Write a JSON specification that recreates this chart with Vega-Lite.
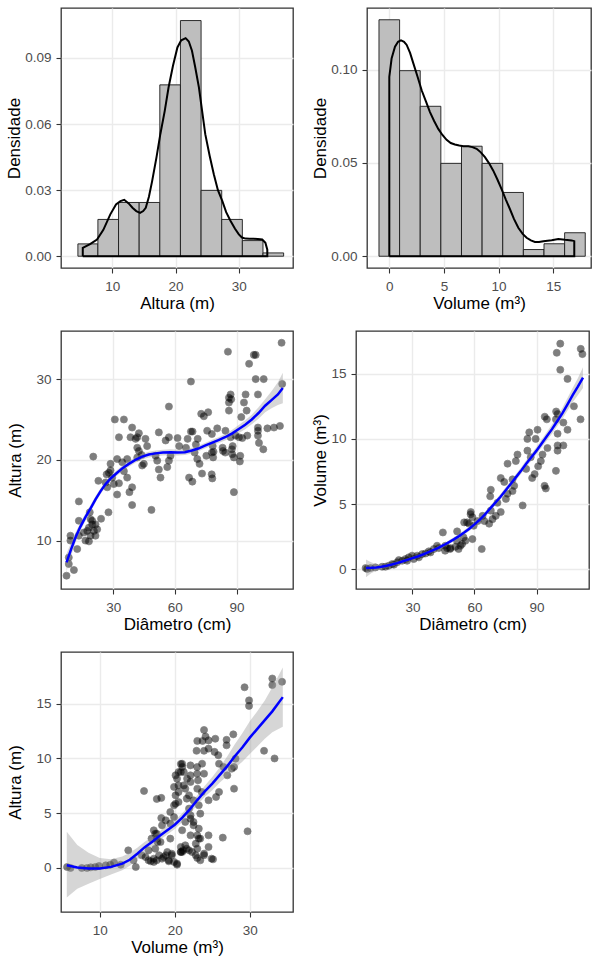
{
"$schema": "https://vega.github.io/schema/vega-lite/v6.json",
"background": "white",
"padding": {"left": 4, "top": 7, "right": 0, "bottom": 0},
"columns": 2,
"align": "none",
"spacing": {"row": 18, "column": 16},
"config": {
  "view": {"stroke": "#333333", "strokeWidth": 1.3},
  "axis": {"domain": false, "grid": true, "gridColor": "#EBEBEB", "gridWidth": 1.4, "tickColor": "#333333", "tickSize": 5, "tickWidth": 1.1,
    "labelFont": "Liberation Sans", "labelFontSize": 13.5, "labelColor": "#4D4D4D", "labelPadding": 6, "labelOverlap": false, "labelFlush": false,
    "titleFont": "Liberation Sans", "titleFontSize": 17, "titleFontWeight": "normal", "titleColor": "#000000"},
  "axisY": {"labelPadding": 5}
},
"datasets": {
  "h1bars": [{"a":4.58,"b":7.74,"d":0.0056},{"a":7.74,"b":11.0,"d":0.0167},{"a":11.0,"b":14.26,"d":0.0244},{"a":14.26,"b":17.52,"d":0.0244},{"a":17.52,"b":20.78,"d":0.0778},{"a":20.78,"b":24.04,"d":0.107},{"a":24.04,"b":27.3,"d":0.0299},{"a":27.3,"b":30.56,"d":0.0167},{"a":30.56,"b":33.82,"d":0.0071},{"a":33.82,"b":37.08,"d":0.0015}],
  "h1dens": [{"k":0,"x":5.35,"y":0},{"k":1,"x":5.35,"y":0.0038},{"k":2,"x":6.5,"y":0.0055},{"k":3,"x":7.6,"y":0.0076},{"k":4,"x":8.6,"y":0.012},{"k":5,"x":9.7,"y":0.019},{"k":6,"x":10.6,"y":0.0235},{"k":7,"x":11.3,"y":0.025},{"k":8,"x":11.9,"y":0.0256},{"k":9,"x":12.6,"y":0.024},{"k":10,"x":13.2,"y":0.022},{"k":11,"x":13.8,"y":0.0205},{"k":12,"x":14.4,"y":0.0197},{"k":13,"x":14.9,"y":0.0205},{"k":14,"x":15.3,"y":0.022},{"k":15,"x":15.8,"y":0.027},{"k":16,"x":16.3,"y":0.034},{"k":17,"x":17.0,"y":0.045},{"k":18,"x":17.6,"y":0.0554},{"k":19,"x":18.3,"y":0.066},{"k":20,"x":18.9,"y":0.0766},{"k":21,"x":19.6,"y":0.0865},{"k":22,"x":20.3,"y":0.0948},{"k":23,"x":20.9,"y":0.098},{"k":24,"x":21.6,"y":0.099},{"k":25,"x":22.1,"y":0.0975},{"k":26,"x":22.6,"y":0.0933},{"k":27,"x":23.1,"y":0.086},{"k":28,"x":23.7,"y":0.0766},{"k":29,"x":24.2,"y":0.066},{"k":30,"x":24.7,"y":0.0554},{"k":31,"x":25.4,"y":0.0455},{"k":32,"x":26.05,"y":0.0372},{"k":33,"x":26.7,"y":0.03},{"k":34,"x":27.4,"y":0.025},{"k":35,"x":28.0,"y":0.02},{"k":36,"x":28.7,"y":0.016},{"k":37,"x":29.4,"y":0.0125},{"k":38,"x":30.0,"y":0.0099},{"k":39,"x":30.5,"y":0.0085},{"k":40,"x":31.05,"y":0.008},{"k":41,"x":31.7,"y":0.0079},{"k":42,"x":32.4,"y":0.0079},{"k":43,"x":33.0,"y":0.0078},{"k":44,"x":33.7,"y":0.0076},{"k":45,"x":34.2,"y":0.0061},{"k":46,"x":34.5,"y":0.003},{"k":47,"x":34.5,"y":0},{"k":48,"x":5.35,"y":0}],
  "h2bars": [{"a":-0.945,"b":0.942,"d":0.1268},{"a":0.942,"b":2.829,"d":0.0995},{"a":2.829,"b":4.716,"d":0.0804},{"a":4.716,"b":6.603,"d":0.0498},{"a":6.603,"b":8.49,"d":0.059},{"a":8.49,"b":10.377,"d":0.0498},{"a":10.377,"b":12.264,"d":0.0342},{"a":12.264,"b":14.151,"d":0.0036},{"a":14.151,"b":16.038,"d":0.0067},{"a":16.038,"b":17.925,"d":0.0126}],
  "h2dens": [{"k":0,"x":0,"y":0},{"k":1,"x":0,"y":0.0962},{"k":2,"x":0.21,"y":0.106},{"k":3,"x":0.52,"y":0.1124},{"k":4,"x":0.8,"y":0.115},{"k":5,"x":1.07,"y":0.1157},{"k":6,"x":1.35,"y":0.115},{"k":7,"x":1.59,"y":0.1133},{"k":8,"x":1.9,"y":0.109},{"k":9,"x":2.2,"y":0.1034},{"k":10,"x":2.6,"y":0.096},{"k":11,"x":2.96,"y":0.089},{"k":12,"x":3.35,"y":0.083},{"k":13,"x":3.72,"y":0.0773},{"k":14,"x":4.1,"y":0.0725},{"k":15,"x":4.48,"y":0.0683},{"k":16,"x":4.86,"y":0.065},{"k":17,"x":5.24,"y":0.0624},{"k":18,"x":5.62,"y":0.0607},{"k":19,"x":6.0,"y":0.0599},{"k":20,"x":6.4,"y":0.0594},{"k":21,"x":6.77,"y":0.059},{"k":22,"x":7.23,"y":0.059},{"k":23,"x":7.6,"y":0.0585},{"k":24,"x":7.99,"y":0.0576},{"k":25,"x":8.37,"y":0.0557},{"k":26,"x":8.75,"y":0.0531},{"k":27,"x":9.13,"y":0.0498},{"k":28,"x":9.51,"y":0.0459},{"k":29,"x":9.9,"y":0.041},{"k":30,"x":10.27,"y":0.036},{"k":31,"x":10.65,"y":0.0305},{"k":32,"x":11.04,"y":0.0252},{"k":33,"x":11.4,"y":0.02},{"k":34,"x":11.8,"y":0.0153},{"k":35,"x":12.2,"y":0.012},{"k":36,"x":12.56,"y":0.0099},{"k":37,"x":12.95,"y":0.0085},{"k":38,"x":13.32,"y":0.0077},{"k":39,"x":13.7,"y":0.0077},{"k":40,"x":14.09,"y":0.0081},{"k":41,"x":14.85,"y":0.0086},{"k":42,"x":15.46,"y":0.0092},{"k":43,"x":16.07,"y":0.0088},{"k":44,"x":16.68,"y":0.0085},{"k":45,"x":16.92,"y":0.0081},{"k":46,"x":16.92,"y":0},{"k":47,"x":0,"y":0}],
  "s3pts": [{"x":7.3,"y":5.65},{"x":10.9,"y":6.35},{"x":8.4,"y":7.1},{"x":8.4,"y":7.9},{"x":12.5,"y":8.95},{"x":9.2,"y":10.0},{"x":9.2,"y":10.6},{"x":13.3,"y":10.6},{"x":13.3,"y":12.45},{"x":13.3,"y":14.85},{"x":16.5,"y":10.0},{"x":18.2,"y":9.9},{"x":19.0,"y":10.6},{"x":15.7,"y":11.0},{"x":18.2,"y":11.6},{"x":19.8,"y":12.0},{"x":20.6,"y":11.2},{"x":21.4,"y":10.6},{"x":22.2,"y":11.4},{"x":19.0,"y":12.65},{"x":19.8,"y":12.45},{"x":18.6,"y":13.5},{"x":20.3,"y":20.4},{"x":24.1,"y":12.7},{"x":27.7,"y":13.5},{"x":22.8,"y":17.4},{"x":26.8,"y":18.2},{"x":27.9,"y":18.4},{"x":28.7,"y":18.7},{"x":29.5,"y":17.8},{"x":26.3,"y":17.2},{"x":27.1,"y":16.6},{"x":30.3,"y":17.0},{"x":31.9,"y":15.7},{"x":32.8,"y":17.1},{"x":36.8,"y":17.8},{"x":37.9,"y":16.0},{"x":39.2,"y":16.6},{"x":39.2,"y":14.4},{"x":31.9,"y":20.1},{"x":36.8,"y":20.1},{"x":41.7,"y":20.3},{"x":42.5,"y":21.1},{"x":41.7,"y":21.5},{"x":40.9,"y":22.6},{"x":41.7,"y":22.8},{"x":42.5,"y":23.3},{"x":39.2,"y":24.0},{"x":32.8,"y":22.8},{"x":38.4,"y":22.8},{"x":45.7,"y":22.6},{"x":46.5,"y":21.7},{"x":44.9,"y":19.5},{"x":44.1,"y":19.3},{"x":52.2,"y":23.4},{"x":51.4,"y":19.9},{"x":52.2,"y":18.8},{"x":53.0,"y":17.8},{"x":55.5,"y":22.4},{"x":57.1,"y":22.8},{"x":57.9,"y":20.5},{"x":57.1,"y":19.9},{"x":56.3,"y":19.1},{"x":57.1,"y":26.6},{"x":30.8,"y":25.0},{"x":35.2,"y":25.0},{"x":48.6,"y":13.8},{"x":34.4,"y":19.7},{"x":28.7,"y":19.5},{"x":35.2,"y":18.6},{"x":43.8,"y":20.6},{"x":50.6,"y":20.5},{"x":17.4,"y":11.2},{"x":21.4,"y":12.0},
    {"x":85.8,"y":33.4},{"x":111.9,"y":34.5},{"x":98.4,"y":33.0},{"x":99.3,"y":33.0},{"x":96.1,"y":31.9},{"x":67.8,"y":29.7},{"x":99.3,"y":30.0},{"x":103.2,"y":30.0},{"x":112.2,"y":29.4},{"x":87.1,"y":28.1},{"x":86.3,"y":27.7},{"x":87.4,"y":27.5},{"x":94.4,"y":28.1},{"x":100.4,"y":28.1},{"x":86.3,"y":27.1},{"x":93.6,"y":27.1},{"x":86.3,"y":26.1},{"x":94.9,"y":26.1},{"x":72.8,"y":25.7},{"x":74.1,"y":25.4},{"x":76.2,"y":25.9},{"x":92.3,"y":25.3},{"x":67.8,"y":23.5},{"x":68.6,"y":23.5},{"x":75.7,"y":23.6},{"x":80.6,"y":23.9},{"x":84.6,"y":23.6},{"x":61.3,"y":22.7},{"x":66.2,"y":22.6},{"x":71.1,"y":22.6},{"x":78.0,"y":23.2},{"x":87.1,"y":22.8},{"x":89.5,"y":23.0},{"x":91.2,"y":22.8},{"x":92.8,"y":22.7},{"x":95.2,"y":23.0},{"x":100.4,"y":24.0},{"x":100.4,"y":23.6},{"x":100.4,"y":23.0},{"x":105.0,"y":23.9},{"x":108.2,"y":24.0},{"x":111.1,"y":24.2},{"x":100.9,"y":22.1},{"x":103.0,"y":21.3},{"x":62.1,"y":21.7},{"x":65.4,"y":21.5},{"x":70.2,"y":21.9},{"x":78.4,"y":21.7},{"x":83.2,"y":21.5},{"x":88.1,"y":21.7},{"x":69.6,"y":20.9},{"x":78.0,"y":20.9},{"x":78.8,"y":21.0},{"x":84.5,"y":20.9},{"x":87.7,"y":21.3},{"x":91.8,"y":20.5},{"x":70.9,"y":20.1},{"x":72.0,"y":19.5},{"x":75.3,"y":20.5},{"x":78.6,"y":20.3},{"x":83.4,"y":21.1},{"x":87.9,"y":20.7},{"x":88.7,"y":20.3},{"x":91.6,"y":19.8},{"x":66.9,"y":17.8},{"x":68.5,"y":17.3},{"x":73.2,"y":18.3},{"x":77.9,"y":18.2},{"x":78.2,"y":17.7},{"x":88.7,"y":16.0}],
  "s3fit": [{"x":7.3,"y":7.3,"lo":6.2,"hi":8.4},{"x":9.5,"y":8.9,"lo":8.1,"hi":9.7},{"x":11.7,"y":10.4,"lo":9.8,"hi":11.0},{"x":14,"y":11.7,"lo":11.2,"hi":12.2},{"x":16.5,"y":12.9,"lo":12.45,"hi":13.35},{"x":19,"y":14.0,"lo":13.6,"hi":14.4},{"x":21.4,"y":15.1,"lo":14.7,"hi":15.5},{"x":23.8,"y":16.1,"lo":15.75,"hi":16.45},{"x":26.3,"y":17.0,"lo":16.65,"hi":17.35},{"x":29,"y":17.75,"lo":17.4,"hi":18.1},{"x":31.9,"y":18.4,"lo":18.05,"hi":18.75},{"x":34.7,"y":19.0,"lo":18.65,"hi":19.35},{"x":37.6,"y":19.5,"lo":19.15,"hi":19.85},{"x":40.8,"y":20.0,"lo":19.65,"hi":20.35},{"x":44.1,"y":20.4,"lo":20.05,"hi":20.75},{"x":47.3,"y":20.65,"lo":20.3,"hi":21.0},{"x":50.6,"y":20.8,"lo":20.45,"hi":21.15},{"x":54.2,"y":20.9,"lo":20.55,"hi":21.25},{"x":57.9,"y":20.95,"lo":20.6,"hi":21.3},{"x":61.4,"y":20.9,"lo":20.55,"hi":21.25},{"x":64.9,"y":20.95,"lo":20.6,"hi":21.3},{"x":68.2,"y":21.15,"lo":20.8,"hi":21.5},{"x":71.4,"y":21.4,"lo":21.05,"hi":21.75},{"x":74.6,"y":21.75,"lo":21.4,"hi":22.1},{"x":77.9,"y":22.1,"lo":21.75,"hi":22.45},{"x":81.2,"y":22.45,"lo":22.1,"hi":22.8},{"x":84.4,"y":22.8,"lo":22.4,"hi":23.2},{"x":87.7,"y":23.25,"lo":22.8,"hi":23.7},{"x":90.9,"y":23.8,"lo":23.3,"hi":24.3},{"x":94.2,"y":24.35,"lo":23.8,"hi":24.9},{"x":97.4,"y":25.0,"lo":24.4,"hi":25.6},{"x":100.7,"y":25.8,"lo":25.1,"hi":26.5},{"x":103.9,"y":26.7,"lo":25.9,"hi":27.5},{"x":107,"y":27.4,"lo":26.4,"hi":28.5},{"x":110.1,"y":28.1,"lo":26.8,"hi":29.6},{"x":112.5,"y":28.9,"lo":27.0,"hi":30.8}],
  "s4pts": [{"x":7.3,"y":0.1},{"x":9.7,"y":0.1},{"x":12.1,"y":0.15},{"x":15.3,"y":0.2},{"x":18.5,"y":0.28},{"x":20.2,"y":0.41},{"x":22.6,"y":0.54},{"x":23.4,"y":0.71},{"x":25.0,"y":0.66},{"x":26.6,"y":0.79},{"x":28.2,"y":0.92},{"x":29.8,"y":1.05},{"x":30.6,"y":0.79},{"x":32.3,"y":1.05},{"x":34.7,"y":1.17},{"x":36.3,"y":1.22},{"x":37.9,"y":1.38},{"x":40.3,"y":1.56},{"x":41.9,"y":1.81},{"x":42.7,"y":1.63},{"x":45.9,"y":1.81},{"x":46.7,"y":1.63},{"x":48.4,"y":1.63},{"x":50.8,"y":1.73},{"x":51.6,"y":2.91},{"x":53.2,"y":1.81},{"x":54.0,"y":1.94},{"x":55.6,"y":2.19},{"x":56.4,"y":3.6},{"x":58.1,"y":4.23},{"x":59.0,"y":2.32},{"x":59.6,"y":3.34},{"x":8.1,"y":0.03},{"x":16.9,"y":0.2},{"x":21.0,"y":0.36},{"x":27.4,"y":0.66},{"x":33.1,"y":0.92},{"x":38.7,"y":1.3},{"x":44.7,"y":2.83},{"x":45.8,"y":1.43},{"x":48.2,"y":1.56},{"x":51.5,"y":2.19},{"x":52.3,"y":1.56},{"x":54.7,"y":2.45},{"x":63.5,"y":1.56},
    {"x":101.5,"y":17.3},{"x":99.8,"y":16.6},{"x":111.4,"y":16.9},{"x":112.2,"y":16.5},{"x":101.5,"y":15.3},{"x":105.0,"y":14.6},{"x":108.1,"y":12.5},{"x":111.3,"y":11.5},{"x":94.0,"y":11.7},{"x":95.0,"y":11.5},{"x":99.5,"y":12.1},{"x":100.2,"y":11.9},{"x":99.4,"y":11.5},{"x":103.0,"y":11.25},{"x":105.0,"y":10.7},{"x":90.5,"y":10.7},{"x":86.5,"y":10.5},{"x":85.6,"y":10.0},{"x":89.6,"y":10.0},{"x":95.3,"y":9.3},{"x":100.2,"y":10.4},{"x":100.2,"y":9.5},{"x":103.0,"y":9.5},{"x":100.2,"y":9.1},{"x":85.6,"y":9.1},{"x":87.2,"y":8.6},{"x":92.1,"y":8.3},{"x":92.9,"y":8.8},{"x":80.8,"y":8.8},{"x":80.0,"y":8.3},{"x":76.0,"y":8.1},{"x":85.0,"y":7.7},{"x":89.1,"y":7.3},{"x":87.9,"y":7.0},{"x":90.8,"y":7.9},{"x":99.4,"y":7.55},{"x":93.9,"y":6.4},{"x":94.5,"y":6.2},{"x":72.7,"y":7.0},{"x":74.4,"y":6.7},{"x":78.4,"y":6.9},{"x":79.2,"y":6.4},{"x":78.4,"y":6.0},{"x":76.0,"y":5.8},{"x":67.9,"y":6.1},{"x":67.6,"y":5.6},{"x":71.1,"y":5.1},{"x":75.2,"y":5.4},{"x":83.3,"y":4.9},{"x":72.7,"y":4.4},{"x":70.3,"y":4.1},{"x":67.9,"y":4.5},{"x":68.7,"y":3.85},{"x":67.1,"y":3.5},{"x":59.0,"y":4.0},{"x":63.9,"y":4.1},{"x":58.2,"y":4.4},{"x":61.5,"y":3.7},{"x":57.4,"y":3.5},{"x":55.0,"y":3.6},{"x":64.8,"y":3.7}],
  "s4fit": [{"x":7.5,"y":0.1,"lo":-0.6,"hi":0.75},{"x":10,"y":0.12,"lo":-0.3,"hi":0.55},{"x":12.5,"y":0.15,"lo":-0.1,"hi":0.4},{"x":15,"y":0.2,"lo":0.02,"hi":0.38},{"x":17.5,"y":0.28,"lo":0.12,"hi":0.44},{"x":20,"y":0.37,"lo":0.22,"hi":0.52},{"x":22.5,"y":0.48,"lo":0.34,"hi":0.62},{"x":25,"y":0.6,"lo":0.46,"hi":0.74},{"x":27.5,"y":0.73,"lo":0.6,"hi":0.86},{"x":30,"y":0.86,"lo":0.73,"hi":0.99},{"x":32.5,"y":0.99,"lo":0.86,"hi":1.12},{"x":35,"y":1.14,"lo":1.01,"hi":1.27},{"x":37.5,"y":1.3,"lo":1.17,"hi":1.43},{"x":40,"y":1.47,"lo":1.34,"hi":1.6},{"x":42.5,"y":1.65,"lo":1.51,"hi":1.79},{"x":45,"y":1.85,"lo":1.71,"hi":1.99},{"x":47.5,"y":2.07,"lo":1.92,"hi":2.22},{"x":50,"y":2.3,"lo":2.14,"hi":2.46},{"x":52.5,"y":2.55,"lo":2.38,"hi":2.72},{"x":55,"y":2.82,"lo":2.65,"hi":2.99},{"x":57.5,"y":3.12,"lo":2.94,"hi":3.3},{"x":60,"y":3.45,"lo":3.27,"hi":3.63},{"x":62.5,"y":3.8,"lo":3.61,"hi":3.99},{"x":65,"y":4.2,"lo":4.0,"hi":4.4},{"x":67.5,"y":4.65,"lo":4.45,"hi":4.85},{"x":70,"y":5.1,"lo":4.9,"hi":5.3},{"x":72.5,"y":5.55,"lo":5.34,"hi":5.76},{"x":75,"y":6.05,"lo":5.83,"hi":6.27},{"x":77.5,"y":6.55,"lo":6.32,"hi":6.78},{"x":80,"y":7.05,"lo":6.81,"hi":7.29},{"x":82.5,"y":7.55,"lo":7.3,"hi":7.8},{"x":85,"y":8.1,"lo":7.84,"hi":8.36},{"x":87.5,"y":8.6,"lo":8.33,"hi":8.87},{"x":90,"y":9.1,"lo":8.82,"hi":9.38},{"x":92.5,"y":9.65,"lo":9.35,"hi":9.95},{"x":95,"y":10.2,"lo":9.88,"hi":10.52},{"x":97.5,"y":10.75,"lo":10.4,"hi":11.1},{"x":100,"y":11.35,"lo":10.97,"hi":11.73},{"x":102.5,"y":11.95,"lo":11.53,"hi":12.37},{"x":105,"y":12.65,"lo":12.17,"hi":13.13},{"x":107.5,"y":13.35,"lo":12.8,"hi":13.9},{"x":110,"y":14.0,"lo":13.35,"hi":14.65},{"x":112.5,"y":14.7,"lo":13.9,"hi":15.5}],
  "s5pts": [{"x":5.64,"y":0.09},{"x":6.1,"y":0.0},{"x":7.6,"y":0.0},{"x":8.3,"y":0.0},{"x":8.8,"y":0.06},{"x":9.4,"y":0.09},{"x":9.9,"y":0.18},{"x":10.8,"y":0.24},{"x":11.4,"y":0.3},{"x":11.9,"y":0.49},{"x":12.8,"y":0.3},{"x":13.8,"y":1.61},{"x":14.8,"y":0.09},{"x":14.5,"y":0.7},{"x":15.9,"y":7.03},{"x":17.6,"y":6.3},{"x":18.2,"y":6.4},{"x":18.2,"y":4.56},{"x":17.4,"y":3.13},{"x":17.2,"y":3.44},{"x":17.6,"y":2.68},{"x":15.6,"y":1.16},{"x":16.1,"y":1.0},{"x":16.8,"y":0.61},{"x":17.2,"y":0.55},{"x":17.6,"y":0.7},{"x":18.3,"y":0.85},{"x":18.8,"y":1.16},{"x":19.2,"y":0.7},{"x":19.6,"y":1.3},{"x":19.9,"y":0.55},{"x":20.3,"y":0.4},{"x":21.0,"y":1.46},{"x":20.8,"y":1.92},{"x":19.4,"y":2.68},{"x":19.4,"y":4.05},{"x":19.9,"y":4.65},{"x":20.1,"y":5.87},{"x":20.5,"y":6.02},{"x":19.9,"y":7.4},{"x":20.5,"y":8.76},{"x":20.8,"y":9.5},{"x":20.1,"y":8.46},{"x":16.5,"y":1.61},{"x":16.9,"y":2.68},{"x":17.7,"y":2.37},{"x":17.4,"y":1.76},
    {"x":33.0,"y":17.3},{"x":34.3,"y":17.0},{"x":33.0,"y":16.7},{"x":29.3,"y":16.5},{"x":29.9,"y":15.3},{"x":29.9,"y":14.8},{"x":23.9,"y":12.6},{"x":24.1,"y":12.0},{"x":23.0,"y":11.6},{"x":23.7,"y":11.6},{"x":24.5,"y":11.65},{"x":25.4,"y":11.8},{"x":26.9,"y":11.7},{"x":27.8,"y":12.2},{"x":26.9,"y":11.2},{"x":22.9,"y":10.7},{"x":23.9,"y":10.7},{"x":24.5,"y":10.9},{"x":25.3,"y":10.6},{"x":25.8,"y":10.3},{"x":31.9,"y":10.7},{"x":33.3,"y":10.0},
    {"x":20.98,"y":9.52},{"x":22.09,"y":9.37},{"x":22.98,"y":9.22},{"x":23.64,"y":9.52},{"x":21.2,"y":8.76},{"x":22.09,"y":8.46},{"x":22.98,"y":8.61},{"x":21.64,"y":8.15},{"x":23.1,"y":8.0},{"x":23.9,"y":8.61},{"x":25.9,"y":9.52},{"x":26.5,"y":9.22},{"x":27.9,"y":9.22},{"x":28.1,"y":9.98},{"x":27.0,"y":8.46},{"x":27.9,"y":7.24},{"x":25.9,"y":6.94},{"x":25.5,"y":6.48},{"x":24.5,"y":6.18},{"x":21.2,"y":7.54},{"x":22.1,"y":7.85},{"x":23.0,"y":7.24},{"x":23.6,"y":6.94},{"x":20.5,"y":6.94},{"x":21.9,"y":6.63},{"x":22.5,"y":6.18},{"x":23.2,"y":5.72},{"x":23.4,"y":4.96},{"x":22.1,"y":4.81},{"x":21.4,"y":4.2},{"x":22.5,"y":4.2},{"x":23.2,"y":3.59},{"x":20.98,"y":3.44},{"x":22.1,"y":2.98},{"x":23.2,"y":2.68},{"x":22.8,"y":2.22},{"x":21.4,"y":2.07},{"x":20.8,"y":1.46},{"x":21.9,"y":1.61},{"x":23.0,"y":1.76},{"x":23.9,"y":1.31},{"x":23.0,"y":0.91},{"x":24.9,"y":0.85},{"x":25.1,"y":0.79},{"x":26.4,"y":2.77},{"x":29.7,"y":3.35},{"x":27.6,"y":9.07},{"x":24.5,"y":2.98},
    {"x":16.5,"y":0.7},{"x":17.2,"y":0.85},{"x":17.9,"y":1.16},{"x":18.5,"y":1.0},{"x":19.0,"y":1.46},{"x":19.2,"y":0.61},{"x":19.6,"y":1.16},{"x":20.3,"y":0.3},{"x":20.8,"y":1.46},{"x":21.1,"y":1.61},{"x":21.6,"y":1.76},{"x":22.3,"y":1.46},{"x":22.8,"y":1.16},{"x":23.4,"y":0.7},{"x":23.9,"y":1.16},{"x":18.1,"y":2.37},{"x":17.6,"y":3.13},{"x":18.3,"y":3.89},{"x":18.8,"y":4.35},{"x":19.4,"y":5.11},{"x":19.9,"y":5.72},{"x":20.1,"y":6.63},{"x":20.5,"y":7.54},{"x":20.3,"y":8.15},{"x":20.8,"y":8.76},{"x":21.0,"y":9.22},{"x":21.4,"y":7.24},{"x":21.6,"y":6.33},{"x":21.9,"y":5.42},{"x":22.1,"y":4.5},{"x":22.5,"y":3.89},{"x":23.0,"y":2.98},{"x":23.4,"y":2.68},{"x":24.5,"y":1.92}],
  "s5fit": [{"x":5.6,"y":0.25,"lo":-2.7,"hi":3.3},{"x":7,"y":0.05,"lo":-1.9,"hi":2.1},{"x":8.5,"y":-0.05,"lo":-1.45,"hi":1.4},{"x":10,"y":-0.05,"lo":-1.0,"hi":0.9},{"x":11.5,"y":0.1,"lo":-0.6,"hi":0.8},{"x":13,"y":0.4,"lo":-0.2,"hi":1.05},{"x":14,"y":0.75,"lo":0.2,"hi":1.4},{"x":15,"y":1.3,"lo":0.75,"hi":1.85},{"x":16,"y":1.9,"lo":1.4,"hi":2.4},{"x":17,"y":2.4,"lo":1.95,"hi":2.85},{"x":18,"y":2.95,"lo":2.55,"hi":3.35},{"x":19,"y":3.45,"lo":3.05,"hi":3.85},{"x":20,"y":3.95,"lo":3.55,"hi":4.35},{"x":21,"y":4.6,"lo":4.2,"hi":5.0},{"x":22,"y":5.35,"lo":4.95,"hi":5.75},{"x":23,"y":6.2,"lo":5.75,"hi":6.65},{"x":24,"y":7.0,"lo":6.5,"hi":7.5},{"x":25,"y":7.7,"lo":7.1,"hi":8.3},{"x":26,"y":8.5,"lo":7.8,"hi":9.2},{"x":27,"y":9.3,"lo":8.4,"hi":10.2},{"x":28,"y":10.2,"lo":9.1,"hi":11.3},{"x":29,"y":11.0,"lo":9.7,"hi":12.3},{"x":30,"y":11.9,"lo":10.4,"hi":13.4},{"x":31,"y":12.7,"lo":11.1,"hi":14.3},{"x":32,"y":13.5,"lo":11.8,"hi":15.3},{"x":33,"y":14.3,"lo":12.4,"hi":16.5},{"x":34.4,"y":15.6,"lo":12.9,"hi":18.3}]
},
"concat": [
  {"width": 232, "height": 260, "resolve": {"axis": {"x": "independent", "y": "independent"}}, "layer": [
   {"data": {"name": "h1bars"}, "mark": {"type": "rect", "fill": "#BEBEBE", "stroke": "#1A1A1A", "strokeWidth": 0.9},
    "encoding": {
     "x": {"field": "a", "type": "quantitative", "scale": {"domain": [1.91, 38.56], "nice": false, "zero": false},
       "axis": {"title": "Altura (m)", "values": [10,20,30], "minExtent": 24, "maxExtent": 24, "titlePadding": 3}},
     "x2": {"field": "b"},
     "y": {"field": "d", "type": "quantitative", "scale": {"domain": [-0.00535, 0.1127], "nice": false, "zero": false},
       "axis": {"title": "Densidade", "values": [0,0.03,0.06,0.09], "format": ".2f", "minExtent": 35, "maxExtent": 35, "titlePadding": 3}},
     "y2": {"datum": 0}}},
   {"data": {"name": "h1dens"}, "mark": {"type": "line", "color": "#000000", "strokeWidth": 2},
    "encoding": {
     "x": {"field": "x", "type": "quantitative", "axis": {"orient": "bottom", "values": [5,15,25,35], "gridWidth": 0.7, "labels": false, "ticks": false, "title": null, "minExtent": 0, "maxExtent": 0}},
     "y": {"field": "y", "type": "quantitative", "axis": {"orient": "left", "values": [0.015,0.045,0.075,0.105], "gridWidth": 0.7, "labels": false, "ticks": false, "title": null, "minExtent": 0, "maxExtent": 0}},
     "order": {"field": "k"}}}
  ]},
  {"width": 224, "height": 260, "resolve": {"axis": {"x": "independent", "y": "independent"}}, "layer": [
   {"data": {"name": "h2bars"}, "mark": {"type": "rect", "fill": "#BEBEBE", "stroke": "#1A1A1A", "strokeWidth": 0.9},
    "encoding": {
     "x": {"field": "a", "type": "quantitative", "scale": {"domain": [-2.04, 18.45], "nice": false, "zero": false},
       "axis": {"title": "Volume (m³)", "values": [0,5,10,15], "minExtent": 24, "maxExtent": 24, "titlePadding": 3}},
     "x2": {"field": "b"},
     "y": {"field": "d", "type": "quantitative", "scale": {"domain": [-0.0063, 0.1331], "nice": false, "zero": false},
       "axis": {"title": "Densidade", "values": [0,0.05,0.1], "format": ".2f", "minExtent": 35, "maxExtent": 35, "titlePadding": 3}},
     "y2": {"datum": 0}}},
   {"data": {"name": "h2dens"}, "mark": {"type": "line", "color": "#000000", "strokeWidth": 2},
    "encoding": {
     "x": {"field": "x", "type": "quantitative", "axis": {"orient": "bottom", "values": [2.5,7.5,12.5,17.5], "gridWidth": 0.7, "labels": false, "ticks": false, "title": null, "minExtent": 0, "maxExtent": 0}},
     "y": {"field": "y", "type": "quantitative", "axis": {"orient": "left", "values": [0.025,0.075,0.125], "gridWidth": 0.7, "labels": false, "ticks": false, "title": null, "minExtent": 0, "maxExtent": 0}},
     "order": {"field": "k"}}}
  ]},
  {"width": 232, "height": 258, "resolve": {"axis": {"x": "independent", "y": "independent"}}, "layer": [
   {"data": {"name": "s3pts"}, "mark": {"type": "point", "filled": true, "color": "#000000", "opacity": 0.5, "size": 50, "stroke": "#000000", "strokeWidth": 0.7},
    "encoding": {
     "x": {"field": "x", "type": "quantitative", "scale": {"domain": [4.61, 117.45], "nice": false, "zero": false},
       "axis": {"title": "Diâmetro (cm)", "values": [30,60,90], "minExtent": 24, "maxExtent": 24, "titlePadding": 3}},
     "y": {"field": "y", "type": "quantitative", "scale": {"domain": [4.0, 35.96], "nice": false, "zero": false},
       "axis": {"title": "Altura (m)", "values": [10,20,30], "minExtent": 25, "maxExtent": 25, "titlePadding": 12}}}},
   {"data": {"name": "s3fit"}, "mark": {"type": "area", "color": "#999999", "opacity": 0.4},
    "encoding": {
     "x": {"field": "x", "type": "quantitative", "axis": {"orient": "bottom", "values": [15,45,75,105], "gridWidth": 0.7, "labels": false, "ticks": false, "title": null, "minExtent": 0, "maxExtent": 0}},
     "y": {"field": "lo", "type": "quantitative", "axis": {"orient": "left", "values": [5,15,25,35], "gridWidth": 0.7, "labels": false, "ticks": false, "title": null, "minExtent": 0, "maxExtent": 0}},
     "y2": {"field": "hi"}}},
   {"data": {"name": "s3fit"}, "mark": {"type": "line", "color": "#0000FF", "strokeWidth": 2.5},
    "encoding": {"x": {"field": "x", "type": "quantitative", "axis": null}, "y": {"field": "y", "type": "quantitative", "axis": null}}}
  ]},
  {"width": 233, "height": 258, "resolve": {"axis": {"x": "independent", "y": "independent"}}, "layer": [
   {"data": {"name": "s4pts"}, "mark": {"type": "point", "filled": true, "color": "#000000", "opacity": 0.5, "size": 50, "stroke": "#000000", "strokeWidth": 0.7},
    "encoding": {
     "x": {"field": "x", "type": "quantitative", "scale": {"domain": [2.67, 115.4], "nice": false, "zero": false},
       "axis": {"title": "Diâmetro (cm)", "values": [30,60,90], "minExtent": 24, "maxExtent": 24, "titlePadding": 3}},
     "y": {"field": "y", "type": "quantitative", "scale": {"domain": [-1.505, 18.27], "nice": false, "zero": false},
       "axis": {"title": "Volume (m³)", "values": [0,5,10,15], "minExtent": 25, "maxExtent": 25, "titlePadding": 2}}}},
   {"data": {"name": "s4fit"}, "mark": {"type": "area", "color": "#999999", "opacity": 0.4},
    "encoding": {
     "x": {"field": "x", "type": "quantitative", "axis": {"orient": "bottom", "values": [15,45,75,105], "gridWidth": 0.7, "labels": false, "ticks": false, "title": null, "minExtent": 0, "maxExtent": 0}},
     "y": {"field": "lo", "type": "quantitative", "axis": {"orient": "left", "values": [2.5,7.5,12.5,17.5], "gridWidth": 0.7, "labels": false, "ticks": false, "title": null, "minExtent": 0, "maxExtent": 0}},
     "y2": {"field": "hi"}}},
   {"data": {"name": "s4fit"}, "mark": {"type": "line", "color": "#0000FF", "strokeWidth": 2.5},
    "encoding": {"x": {"field": "x", "type": "quantitative", "axis": null}, "y": {"field": "y", "type": "quantitative", "axis": null}}}
  ]},
  {"width": 232, "height": 260, "resolve": {"axis": {"x": "independent", "y": "independent"}}, "layer": [
   {"data": {"name": "s5pts"}, "mark": {"type": "point", "filled": true, "color": "#000000", "opacity": 0.5, "size": 50, "stroke": "#000000", "strokeWidth": 0.7},
    "encoding": {
     "x": {"field": "x", "type": "quantitative", "scale": {"domain": [4.83, 35.76], "nice": false, "zero": false},
       "axis": {"title": "Volume (m³)", "values": [10,20,30], "minExtent": 24, "maxExtent": 24, "titlePadding": 3}},
     "y": {"field": "y", "type": "quantitative", "scale": {"domain": [-4.02, 19.72], "nice": false, "zero": false},
       "axis": {"title": "Altura (m)", "values": [0,5,10,15], "minExtent": 25, "maxExtent": 25, "titlePadding": 12}}}},
   {"data": {"name": "s5fit"}, "mark": {"type": "area", "color": "#999999", "opacity": 0.4},
    "encoding": {
     "x": {"field": "x", "type": "quantitative", "axis": {"orient": "bottom", "values": [5,15,25,35], "gridWidth": 0.7, "labels": false, "ticks": false, "title": null, "minExtent": 0, "maxExtent": 0}},
     "y": {"field": "lo", "type": "quantitative", "axis": {"orient": "left", "values": [-2.5,2.5,7.5,12.5,17.5], "gridWidth": 0.7, "labels": false, "ticks": false, "title": null, "minExtent": 0, "maxExtent": 0}},
     "y2": {"field": "hi"}}},
   {"data": {"name": "s5fit"}, "mark": {"type": "line", "color": "#0000FF", "strokeWidth": 2.5},
    "encoding": {"x": {"field": "x", "type": "quantitative", "axis": null}, "y": {"field": "y", "type": "quantitative", "axis": null}}}
  ]}
]
}
